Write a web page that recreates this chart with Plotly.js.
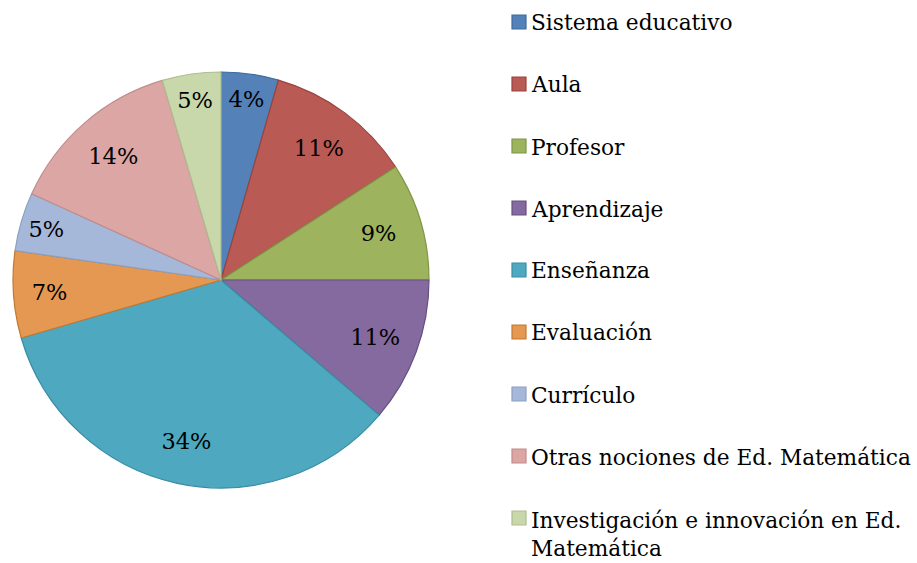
<!DOCTYPE html>
<html>
<head>
<meta charset="utf-8">
<script src="https://cdn.plot.ly/plotly-3.0.1.min.js"></script>
<style>
html,body{margin:0;padding:0;background:#fff;}
#chart{width:917px;height:563px;}
</style>
</head>
<body>
<div id="chart"></div>
<script>
// Data (approximate shares, %)
var categories = [
  'Sistema educativo',
  'Aula',
  'Profesor',
  'Aprendizaje',
  'Enseñanza',
  'Evaluación',
  'Currículo',
  'Otras nociones de Ed. Matemática',
  'Investigación e innovación en Ed.<br>Matemática'
];
var shares = [4.45, 11.4, 9.15, 11.25, 34.25, 6.75, 4.55, 13.65, 4.55];
var fillColors = ['#5381B8', '#BA5A55', '#9DB35E', '#846A9E', '#4EA8BF', '#E49852', '#A6B8DA', '#DBA6A4', '#C8D8AB'];
var edgeColors = ['#3F6A9E', '#9A423E', '#7E9645', '#674F84', '#3A8CA3', '#C27830', '#8C9FC2', '#C08C8A', '#ADBD8F'];

var W = 917, H = 563;
function px(x){ return x / W; }
function py(y){ return 1 - y / H; }
var pieDomain = {x: [px(13), px(429)], y: [py(488), py(72)]};
var legendFont = {family: 'DejaVu Serif', size: 21.7, color: '#000'};
var sliceFont = {family: 'DejaVu Serif', size: 22.5, color: '#000'};

// Filled pie (no text)
var pie = {
  type: 'pie',
  labels: categories,
  values: shares,
  sort: false,
  direction: 'clockwise',
  rotation: 0,
  marker: {colors: fillColors, line: {color: edgeColors, width: 1.2}},
  textinfo: 'none',
  hoverinfo: 'label+percent',
  showlegend: false,
  domain: pieDomain
};
// Transparent ring over it, only used to place the percentage labels near the rim
var ring = {
  type: 'pie',
  labels: categories,
  values: shares,
  sort: false,
  direction: 'clockwise',
  rotation: 0,
  hole: 0.58,
  marker: {colors: categories.map(function(){ return 'rgba(0,0,0,0)'; }), line: {width: 0}},
  texttemplate: '%{percent:.0%}',
  textposition: 'inside',
  insidetextorientation: 'horizontal',
  textfont: sliceFont,
  hoverinfo: 'skip',
  showlegend: false,
  domain: pieDomain
};

// Legend drawn as layout shapes + annotations (one entry per category)
var shapes = [], annotations = [];
var rowY = [22, 84, 146, 208, 270, 332, 394, 456, 518];
categories.forEach(function(c, i){
  var cy = rowY[i];
  shapes.push({
    type: 'rect', xref: 'paper', yref: 'paper',
    x0: px(512), x1: px(526), y0: py(cy + 7), y1: py(cy - 7),
    fillcolor: fillColors[i], line: {color: edgeColors[i], width: 1.2}
  });
  var multi = c.indexOf('<br>') >= 0;
  annotations.push({
    xref: 'paper', yref: 'paper', x: px(529), y: multi ? py(cy + 16.5) : py(cy + 1),
    xanchor: 'left', yanchor: 'middle', align: 'left', showarrow: false,
    text: c, font: legendFont
  });
});

var layout = {
  width: W, height: H,
  margin: {l: 0, r: 0, t: 0, b: 0},
  paper_bgcolor: '#fff',
  plot_bgcolor: '#fff',
  showlegend: false,
  shapes: shapes,
  annotations: annotations
};

Plotly.newPlot('chart', [pie, ring], layout, {displayModeBar: false, staticPlot: true});
</script>
</body>
</html>
